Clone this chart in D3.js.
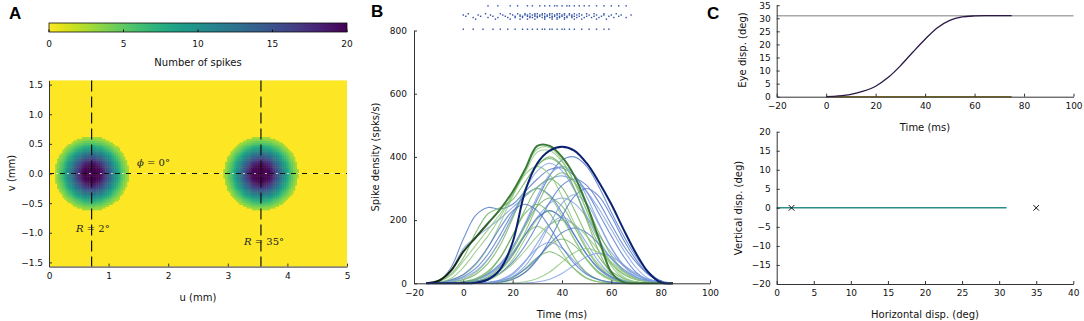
<!DOCTYPE html>
<html>
<head>
<meta charset="utf-8">
<script src="https://d3js.org/d3.v7.min.js"></script>
<style>
  body { margin: 0; background: #fff; }
  svg { font-family: "DejaVu Sans", sans-serif; }
</style>
</head>
<body>
<script>
// ---------- data ----------
// panel A
var cbarTicks = [0, 5, 10, 15, 20];
var uTicks = [0, 1, 2, 3, 4, 5];
var vTicks = [-1.5, -1.0, -0.5, 0.0, 0.5, 1.0, 1.5];
var blobU = [0.715, 3.556];               // population centres on the map (mm), v = 0
var blobProfile = [20, 20, 20, 19.5, 18, 16, 14, 12, 10, 8, 6, 4.5, 3]; // spikes vs distance (0.05 mm steps)

// panel B : spike density, sampled every 5 ms
var densT = [-15, -10, -5, 0, 5, 10, 15, 20, 25, 30, 35, 40, 45, 50, 55, 60, 65, 70, 75, 80, 85];
var greenCurves = [
  [0,0,0,0,0,1,4,17,46,82,100,82,46,17,4,1,0,0,0,0,0],
  [0,0,0,1,4,15,45,97,154,180,154,97,45,15,4,1,0,0,0,0,0],
  [0,0,0,0,0,1,3,12,35,76,120,140,120,76,35,12,3,1,0,0,0],
  [0,0,0,0,3,10,31,75,140,203,230,203,140,75,31,10,3,0,0,0,0],
  [0,0,0,2,6,21,52,107,179,244,270,244,179,107,52,21,6,2,0,0,0],
  [0,1,4,13,34,75,137,212,275,300,275,212,137,75,34,13,4,1,0,0,0],
  [0,0,1,5,15,38,83,151,233,303,330,303,233,151,83,38,15,5,1,0,0],
  [1,3,10,26,58,113,190,275,344,370,344,275,190,113,58,26,10,3,1,0,0],
  [0,0,4,11,28,63,122,206,298,372,400,372,298,206,122,63,28,11,4,0,0],
  [0,5,25,70,120,170,220,280,350,415,420,385,320,230,140,65,20,4,0,0,0],
  [0,0,0,1,5,15,40,88,160,247,321,350,321,247,160,88,40,15,5,1,0],
  [0,0,1,2,5,14,31,61,103,149,186,200,186,149,103,61,31,14,5,2,0],
  [0,5,30,80,160,220,240,265,320,375,395,370,300,200,100,30,5,0,0,0,0],
  [0,0,0,0,0,0,0,1,5,15,36,67,97,110,97,67,36,15,5,1,0],
  [0,0,1,3,11,34,81,152,221,250,221,152,81,34,11,3,1,0,0,0,0],
  [0,3,15,50,100,150,210,280,360,425,430,390,320,230,135,55,15,2,0,0,0]
];
var blueCurves = [
  [0,5,50,140,215,240,235,250,290,330,360,365,340,290,220,150,85,35,8,0,0],
  [0,5,40,110,145,175,205,240,275,305,330,340,325,290,235,170,105,50,15,2,0],
  [0,0,0,5,12,30,62,115,185,265,340,390,400,370,305,225,150,85,35,8,0],
  [0,0,1,3,10,26,58,113,190,275,344,370,344,275,190,113,58,26,10,3,1],
  [1,3,8,21,47,92,154,223,279,300,279,223,154,92,47,21,8,3,1,0,0],
  [0,0,2,5,12,27,55,97,152,209,253,270,253,209,152,97,55,27,12,5,2],
  [0,0,0,1,6,17,44,91,152,207,230,207,152,91,44,17,6,1,0,0,0],
  [0,0,0,0,1,3,11,32,70,111,130,111,70,32,11,3,1,0,0,0,0],
  [0,0,0,0,0,2,8,20,44,80,124,160,175,160,124,80,44,20,8,2,0],
  [0,0,0,0,0,2,9,28,68,127,185,210,185,127,68,28,9,2,0,0,0],
  [0,0,0,2,6,15,33,67,119,186,256,310,330,310,256,186,119,67,28,6,0],
  [0,2,6,17,38,77,137,214,295,356,380,356,295,214,137,77,38,17,6,2,0],
  [0,0,0,0,0,0,4,13,34,75,137,212,275,300,275,212,137,75,30,6,0],
  [0,0,0,0,0,0,0,0,1,4,13,31,58,84,95,84,58,31,13,4,1],
  [1,3,11,28,62,115,177,229,250,229,177,115,62,28,11,3,1,0,0,0,0],
  [0,0,0,0,0,2,7,21,54,111,185,253,280,253,185,111,54,21,7,2,0]
];
var boldGreen = [0,8,40,100,145,190,235,290,360,435,435,400,340,250,140,35,3,0,0,0,0];
var boldNavy  = [0,0,0,0,2,12,45,130,290,380,420,432,420,380,320,250,170,95,35,3,0];

// raster above panel B: spike times (ms) per row, row level in spks/s units
var rasterRows = [
  {level: 878, times: [10,14,19,22,26,28,31,33,35,37,38,40,42,43,45,47,49,51,54,57,60,63,66]},
  {level: 853, times: [2,9,15,19,22,25,27,29,30,32,33,35,36,38,39,41,43,45,47,50,53,57,62]},
  {level: 849, times: [0,6,11,16,20,23,25,26,28,29,31,32,34,35,37,38,40,41,43,44,46,48,51,54,57,60,64,68]},
  {level: 845, times: [1,7,12,17,21,23,24,26,27,29,30,31,33,34,36,37,39,40,42,44,45,47,50,53,56,59,63]},
  {level: 841, times: [4,10,14,18,21,24,27,28,30,32,33,35,36,38,39,41,42,44,46,49,52,55,61,66]},
  {level: 836, times: [5,13,19,23,26,29,33,36,38,41,45,48,54,58]},
  {level: 804, times: [0,4,8,12,15,18,21,24,26,28,30,32,33,35,36,38,40,41,43,45,48,51,54,57,59]}
];
var timeTicks = [-20, 0, 20, 40, 60, 80, 100];
var densTicks = [0, 200, 400, 600, 800];

// panel C : eye movement
var eyeT = [0, 5, 10, 15, 20, 25, 30, 35, 40, 45, 50, 55, 60, 65, 70, 75];
var eyeH = [0, 0.3, 0.9, 2.1, 4, 7.3, 11.8, 17, 22, 26.4, 29.2, 30.5, 30.9, 31, 31, 31];
var eyeV = [0, 0, 0, 0, 0, 0, 0, 0, 0, 0, 0, 0, 0, 0, 0, 0];
var goalAmp = 31;
var targetH = [2, 35], targetV = [0, 0];
var eyeTicks = [0, 5, 10, 15, 20, 25, 30, 35];
var hTicks = [0, 5, 10, 15, 20, 25, 30, 35, 40];
var vdTicks = [-20, -15, -10, -5, 0, 5, 10, 15, 20];

// ---------- drawing ----------
var svg = d3.select("body").append("svg").attr("width", 1084).attr("height", 321);
var defs = svg.append("defs");

function styleAxis(g) {
  g.select(".domain").attr("stroke", "#333").attr("stroke-width", 1);
  g.selectAll(".tick line").attr("stroke", "#333");
  g.selectAll(".tick text").attr("font-size", 9).attr("fill", "#111")
    .attr("font-family", "DejaVu Sans");
}
function label(x, y, txt, rot, size) {
  svg.append("text").attr("transform", "translate(" + x + "," + y + ")" + (rot ? " rotate(-90)" : ""))
    .attr("text-anchor", "middle").attr("dy", "0.35em").attr("font-size", size || 10)
    .attr("fill", "#111").text(txt);
}
function panelLetter(x, y, t) {
  svg.append("text").attr("x", x).attr("y", y).attr("font-family", "Liberation Sans, Arial, sans-serif")
    .attr("font-weight", "bold").attr("font-size", 17).text(t);
}

// ===== A =====
var xA = d3.scaleLinear().domain([0, 5]).range([49, 347]);
var yA = d3.scaleLinear().domain([-1.5708, 1.5708]).range([266.6, 80.4]);
var cA = d3.scaleSequential(function(t) { return d3.interpolateViridis(1 - t); }).domain([0, 20]);

// colour bar
var grad = defs.append("linearGradient").attr("id", "cbar");
d3.range(0, 1.0001, 0.05).forEach(function(p) {
  grad.append("stop").attr("offset", p).attr("stop-color", cA(p * 20));
});
var xCb = d3.scaleLinear().domain([0, 20]).range([49, 347]);
svg.append("rect").attr("x", 49).attr("y", 23).attr("width", 298).attr("height", 9)
  .attr("fill", "url(#cbar)").attr("stroke", "#111").attr("stroke-width", 0.8);
svg.append("g").selectAll("line").data(cbarTicks).join("line")
  .attr("x1", xCb).attr("x2", xCb).attr("y1", 32).attr("y2", 29.5).attr("stroke", "#111");
svg.append("g").selectAll("text").data(cbarTicks).join("text")
  .attr("x", xCb).attr("y", 47).attr("text-anchor", "middle").attr("font-size", 9)
  .attr("fill", "#111").text(function(d) { return d; });
label(198, 62, "Number of spikes");

// heat map
svg.append("rect").attr("x", xA(0)).attr("y", yA(1.5708))
  .attr("width", xA(5) - xA(0)).attr("height", yA(-1.5708) - yA(1.5708)).attr("fill", cA(0));
var step = 0.03, cells = [], rMax = (blobProfile.length - 1) * 0.05 + 0.02;
blobU.forEach(function(cu) {
  for (var k = Math.floor((cu - rMax) / step); k <= Math.ceil((cu + rMax) / step); k++) {
    for (var j = -Math.ceil(rMax / step); j <= Math.ceil(rMax / step); j++) {
      var u = k * step, v = j * step;
      var d = Math.hypot(u - cu, v) / 0.05;
      if (d * 0.05 > rMax) continue;
      var i = Math.min(Math.floor(d), blobProfile.length - 1), f = d - i;
      var n = i + 1 < blobProfile.length ? blobProfile[i] * (1 - f) + blobProfile[i + 1] * f : blobProfile[i];
      cells.push({u: u, v: v, n: n});
    }
  }
});
svg.append("g").selectAll("rect").data(cells).join("rect")
  .attr("x", function(d) { return xA(d.u - step / 2); })
  .attr("y", function(d) { return yA(d.v + step / 2); })
  .attr("width", xA(step) - xA(0) + 0.4)
  .attr("height", yA(0) - yA(step) + 0.4)
  .attr("fill", function(d) { return cA(d.n); });

// guide lines
svg.append("g").selectAll("line").data(blobU).join("line")
  .attr("x1", xA).attr("x2", xA).attr("y1", yA(1.5708)).attr("y2", yA(-1.5708))
  .attr("stroke", "#111").attr("stroke-width", 1.2).attr("stroke-dasharray", "11,5");
svg.append("line").attr("x1", xA(0)).attr("x2", xA(5)).attr("y1", yA(0)).attr("y2", yA(0))
  .attr("stroke", "#111").attr("stroke-width", 1.2).attr("stroke-dasharray", "5,6");
svg.append("line").attr("x1", xA(0)).attr("x2", xA(5)).attr("y1", yA(0)).attr("y2", yA(0))
  .attr("stroke", "#f4f4f4").attr("stroke-width", 1.2).attr("stroke-dasharray", "1.5,9.5")
  .attr("stroke-dashoffset", -7.2);

function mathLabel(x, y, sym, rest) {
  var t = svg.append("text").attr("x", x).attr("y", y).attr("font-family", "DejaVu Serif")
    .attr("font-size", 10).attr("fill", "#222");
  t.append("tspan").attr("font-style", "italic").text(sym);
  t.append("tspan").text(rest);
}
mathLabel(137, 166, "ϕ", " = 0°");
mathLabel(76, 232, "R", " = 2°");
mathLabel(244, 245, "R", " = 35°");

svg.append("g").attr("transform", "translate(0," + yA(-1.5708) + ")")
  .call(d3.axisBottom(xA).tickValues(uTicks).tickFormat(d3.format("d")).tickSizeInner(-3).tickSizeOuter(0).tickPadding(6))
  .call(styleAxis);
svg.append("g").attr("transform", "translate(" + xA(0) + ",0)")
  .call(d3.axisLeft(yA).tickValues(vTicks).tickFormat(d3.format(".1f")).tickSizeInner(-3).tickSizeOuter(0).tickPadding(6))
  .call(styleAxis);
label(198, 297, "u (mm)");
label(11, 173, "v (mm)", true);
panelLetter(9, 19, "A");

// ===== B =====
var xB = d3.scaleLinear().domain([-20, 100]).range([414, 710]);
var yB = d3.scaleLinear().domain([0, 800]).range([283.3, 30.5]);
var lineB = d3.line().x(function(d, i) { return xB(densT[i]); })
  .y(function(d) { return yB(Math.max(0, d)); }).curve(d3.curveCatmullRom.alpha(0.5));

var thin = [];
for (var i = 0; i < 16; i++) {
  thin.push({v: greenCurves[i], c: i % 2 ? "#8cc57c" : "#6eae62"});
  thin.push({v: blueCurves[i], c: i % 2 ? "#7d9ee0" : "#4f75c8"});
}
svg.append("g").selectAll("path").data(thin).join("path")
  .attr("d", function(d) { return lineB(d.v); })
  .attr("fill", "none").attr("stroke", function(d) { return d.c; })
  .attr("stroke-width", 1.1).attr("stroke-opacity", 0.8);

var gg = defs.append("linearGradient").attr("id", "gbold").attr("gradientUnits", "userSpaceOnUse")
  .attr("x1", xB(-5)).attr("x2", xB(15)).attr("y1", 0).attr("y2", 0);
gg.append("stop").attr("offset", 0).attr("stop-color", "#102010");
gg.append("stop").attr("offset", 1).attr("stop-color", "#3b7a36");
svg.append("path").attr("d", lineB(boldGreen)).attr("fill", "none")
  .attr("stroke", "url(#gbold)").attr("stroke-width", 2);
svg.append("path").attr("d", lineB(boldNavy)).attr("fill", "none")
  .attr("stroke", "#0c2070").attr("stroke-width", 2);

// raster
var dots = [];
rasterRows.forEach(function(r) { r.times.forEach(function(t) { dots.push({t: t, l: r.level}); }); });
svg.append("g").selectAll("rect").data(dots).join("rect")
  .attr("x", function(d) { return xB(d.t) - 0.7; })
  .attr("y", function(d) { return yB(d.l) - 0.7; })
  .attr("width", 1.4).attr("height", 1.4).attr("fill", "#2c4ea6");

svg.append("g").attr("transform", "translate(0," + yB(0) + ")")
  .call(d3.axisBottom(xB).tickValues(timeTicks).tickSizeInner(-3).tickSizeOuter(0).tickPadding(6))
  .call(styleAxis);
svg.append("g").attr("transform", "translate(" + xB(-20) + ",0)")
  .call(d3.axisLeft(yB).tickValues(densTicks).tickSizeInner(-3).tickSizeOuter(0).tickPadding(7))
  .call(styleAxis);
label(562, 314, "Time (ms)");
label(375, 157, "Spike density (spks/s)", true);
panelLetter(371, 17, "B");

// ===== C top =====
var xC = d3.scaleLinear().domain([-20, 100]).range([776.7, 1073.5]);
var yC = d3.scaleLinear().domain([0, 35]).range([96.7, 5.2]);
svg.append("line").attr("x1", xC(-20)).attr("x2", xC(100)).attr("y1", yC(goalAmp)).attr("y2", yC(goalAmp))
  .attr("stroke", "#a8a8a8").attr("stroke-width", 1.5);
var lineV = d3.line().x(function(d, i) { return xC(eyeT[i]); }).y(function(d) { return yC(d); });
svg.append("path").attr("d", lineV(eyeV)).attr("fill", "none").attr("stroke", "#857326").attr("stroke-width", 1.5);
svg.append("path").attr("d", lineV.curve(d3.curveCatmullRom.alpha(0.5))(eyeH)).attr("fill", "none")
  .attr("stroke", "#2a1745").attr("stroke-width", 1.3);
svg.append("g").attr("transform", "translate(0," + yC(0) + ")")
  .call(d3.axisBottom(xC).tickValues(timeTicks).tickSizeInner(-3).tickSizeOuter(0).tickPadding(6))
  .call(styleAxis);
svg.append("g").attr("transform", "translate(" + xC(-20) + ",0)")
  .call(d3.axisLeft(yC).tickValues(eyeTicks).tickSizeInner(-3).tickSizeOuter(0).tickPadding(6))
  .call(styleAxis);
label(925, 127, "Time (ms)");
label(742, 50, "Eye disp. (deg)", true);
panelLetter(707, 19, "C");

// ===== C bottom =====
var xD = d3.scaleLinear().domain([0, 40]).range([776.7, 1073.3]);
var yD = d3.scaleLinear().domain([-20, 20]).range([284, 131.7]);
var traj = d3.line().x(function(d, i) { return xD(eyeH[i]); }).y(function(d, i) { return yD(eyeV[i]); });
svg.append("path").attr("d", traj(eyeH)).attr("fill", "none").attr("stroke", "#2a8e8a").attr("stroke-width", 1.5);
svg.append("g").selectAll("path").data(targetH).join("path")
  .attr("transform", function(d, i) { return "translate(" + xD(d) + "," + yD(targetV[i]) + ")"; })
  .attr("d", d3.symbol(d3.symbolX, 22)).attr("fill", "none").attr("stroke", "#111").attr("stroke-width", 1);
svg.append("g").attr("transform", "translate(0," + yD(-20) + ")")
  .call(d3.axisBottom(xD).tickValues(hTicks).tickSizeInner(-3).tickSizeOuter(0).tickPadding(6))
  .call(styleAxis);
svg.append("g").attr("transform", "translate(" + xD(0) + ",0)")
  .call(d3.axisLeft(yD).tickValues(vdTicks).tickSizeInner(-3).tickSizeOuter(0).tickPadding(6))
  .call(styleAxis);
label(925, 314, "Horizontal disp. (deg)");
label(738, 208, "Vertical disp. (deg)", true);
</script>
</body>
</html>
